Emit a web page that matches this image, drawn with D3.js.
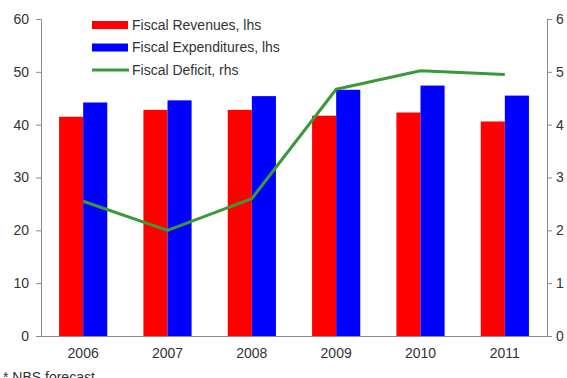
<!DOCTYPE html>
<html>
<head>
<meta charset="utf-8">
<script src="https://cdn.jsdelivr.net/npm/d3@7"></script>
<style>
  html, body { margin: 0; padding: 0; background: #fff; }
  svg { display: block; font-family: "Liberation Sans", Arial, sans-serif; }
</style>
</head>
<body>
<svg id="chart" width="567" height="378"></svg>
<script>
// Years on the category axis
const years = ["2006", "2007", "2008", "2009", "2010", "2011"];
// Fiscal revenues, % (left axis)
const revenues = [41.5, 42.8, 42.8, 41.7, 42.3, 40.6];
// Fiscal expenditures, % (left axis)
const expenditures = [44.2, 44.6, 45.4, 46.6, 47.4, 45.5];
// Fiscal deficit, % (right axis)
const deficit = [2.55, 2.0, 2.6, 4.67, 5.02, 4.95];
// Axis ticks
const leftTicks = [0, 10, 20, 30, 40, 50, 60];
const rightTicks = [0, 1, 2, 3, 4, 5, 6];

const legendItems = [
  { label: "Fiscal Revenues, lhs", color: "#ff0000", type: "bar" },
  { label: "Fiscal Expenditures, lhs", color: "#0000ff", type: "bar" },
  { label: "Fiscal Deficit, rhs", color: "#3a9a3a", type: "line" }
];

const svg = d3.select("#chart");
const margin = { left: 41, right: 20, top: 19, bottom: 42 };
const W = 567, H = 378;
const x0 = margin.left, x1 = W - margin.right;
const y0 = H - margin.bottom, y1 = margin.top;

const x = d3.scaleBand().domain(years).range([x0, x1]).paddingInner(0).paddingOuter(0);
const xs = d3.scaleBand().domain(["rev", "exp"]).range([0, x.bandwidth()]).paddingInner(0).paddingOuter(0.75);
const yL = d3.scaleLinear().domain([0, 60]).range([y0, y1]);
const yR = d3.scaleLinear().domain([0, 6]).range([y0, y1]);

const axisColor = "#8a8a8a";
const textColor = "#333";
const fontSize = "14px";

// Bars
const g = svg.append("g");
years.forEach((yr, i) => {
  g.append("rect")
    .attr("x", x(yr) + xs("rev"))
    .attr("y", yL(revenues[i]))
    .attr("width", xs.bandwidth())
    .attr("height", yL(0) - yL(revenues[i]))
    .attr("fill", "#ff0000");
  g.append("rect")
    .attr("x", x(yr) + xs("exp"))
    .attr("y", yL(expenditures[i]))
    .attr("width", xs.bandwidth())
    .attr("height", yL(0) - yL(expenditures[i]))
    .attr("fill", "#0000ff");
});

// Deficit line
const line = d3.line()
  .x((d, i) => x(years[i]) + x.bandwidth() / 2)
  .y(d => yR(d));
svg.append("path")
  .datum(deficit)
  .attr("d", line)
  .attr("fill", "none")
  .attr("stroke", "#3a9a3a")
  .attr("stroke-width", 3)
  .attr("stroke-linejoin", "round");

// Axes
function styleAxis(sel) {
  sel.selectAll("path").attr("stroke", axisColor);
  sel.selectAll("line").attr("stroke", axisColor);
  sel.selectAll("text").attr("fill", textColor).style("font-size", fontSize)
    .style("font-family", "'Liberation Sans', Arial, sans-serif");
}

const axL = svg.append("g").attr("transform", `translate(${x0},0)`)
  .call(d3.axisLeft(yL).tickValues(leftTicks).tickFormat(d3.format("d"))
    .tickSize(5).tickSizeOuter(5).tickPadding(7));
styleAxis(axL);

const axR = svg.append("g").attr("transform", `translate(${x1},0)`)
  .call(d3.axisRight(yR).tickValues(rightTicks).tickFormat(d3.format("d"))
    .tickSize(5).tickSizeOuter(5).tickPadding(4));
styleAxis(axR);

const axB = svg.append("g").attr("transform", `translate(0,${y0})`)
  .call(d3.axisBottom(x).tickSize(0).tickPadding(12));
styleAxis(axB);
axB.select("path").attr("d", `M${x0},0.5H${x1}`);

// Legend
const lg = svg.append("g").attr("transform", "translate(92,25)");
legendItems.forEach((d, i) => {
  const row = lg.append("g").attr("transform", `translate(0,${i * 22.5})`);
  if (d.type === "bar") {
    row.append("rect").attr("x", 0).attr("y", -4).attr("width", 36).attr("height", 8).attr("fill", d.color);
  } else {
    row.append("line").attr("x1", 0).attr("x2", 37).attr("y1", 0).attr("y2", 0)
      .attr("stroke", d.color).attr("stroke-width", 3);
  }
  row.append("text").attr("x", 40).attr("y", 0).attr("dy", "0.35em")
    .attr("fill", textColor).style("font-size", fontSize).text(d.label);
});

// Footnote
svg.append("text").attr("x", 3).attr("y", 382)
  .attr("fill", textColor).style("font-size", fontSize).text("* NBS forecast");
</script>
</body>
</html>
